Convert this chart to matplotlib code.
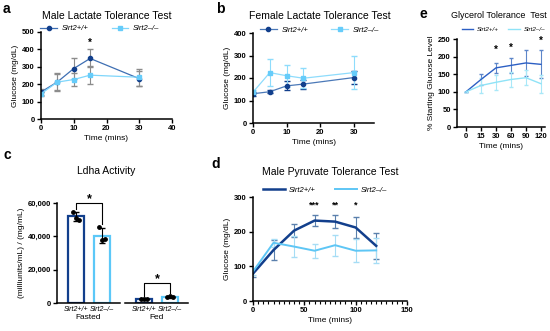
import numpy as np
import matplotlib
matplotlib.use('Agg')
import matplotlib.pyplot as plt
from matplotlib.ticker import MultipleLocator
from matplotlib.lines import Line2D

plt.rcParams['font.family'] = ['Liberation Sans', 'DejaVu Sans']

W, H = 550, 331

# a - male lactate
a_t = [0, 5, 10, 15, 30]
a_wt = [155, 213, 290, 348, 232]
a_wt_err = [15, 50, 58, 52, 45]
a_ko = [145, 212, 227, 252, 240]
a_ko_err = [12, 45, 35, 50, 50]

# b - female lactate
b_t = [0, 5, 10, 15, 30]
b_wt = [130, 139, 165, 173, 202]
b_wt_err = [8, 6, 20, 20, 30]
b_ko = [137, 224, 210, 199, 224]
b_ko_err = [10, 60, 48, 45, 75]

# e - glycerol
e_labels = ['0', '15', '30', '60', '90', '120']
e_wt = [100, 135, 168, 175, 182, 178]
e_wt_err = [0, 15, 15, 22, 38, 40]
e_ko = [100, 118, 127, 135, 140, 123]
e_ko_err = [0, 22, 22, 22, 22, 25]

# c - Ldha activity
c_groups = ['Fasted', 'Fed']
c_wt_mean = [52000, 2500]
c_ko_mean = [40500, 3800]
c_wt_pts = [[54500, 51000, 50000], [2400, 2500, 2600]]
c_ko_pts = [[45500, 38000, 38500], [3500, 4500, 3500]]
c_wt_err = [2500, 150]
c_ko_err = [4300, 600]

# d - male pyruvate
d_t = [0, 20, 40, 60, 80, 100, 120]
d_wt = [79, 147, 203, 232, 229, 212, 159]
d_wt_err = [10, 30, 18, 15, 18, 30, 38]
d_ko = [85, 168, 157, 145, 161, 145, 146]
d_ko_err = [10, 12, 30, 20, 30, 33, 35]

navy = '#123f8c'
light = '#5cc8f8'

fig = plt.figure(figsize=(W / 100, H / 100), dpi=100)


def px_axes(left, right, top, bottom):
    return fig.add_axes([left / W, 1 - bottom / H, (right - left) / W, (bottom - top) / H])


def ftext(x, y, s, **kw):
    fig.text(x / W, 1 - y / H, s, **kw)


def style(ax):
    for s in ['top', 'right']:
        ax.spines[s].set_visible(False)
    for s in ['left', 'bottom']:
        ax.spines[s].set_linewidth(1.1)
    ax.tick_params(labelsize=5.5, length=3, width=1.0, pad=1.5)
    for lab in ax.get_xticklabels() + ax.get_yticklabels():
        lab.set_fontweight('bold')


def legend(ax, handles, anchor, size=5.5, hl=2.2, cs=3):
    ax.legend(handles=handles, loc='lower center', bbox_to_anchor=anchor, ncol=2, frameon=False,
              prop={'size': size, 'style': 'italic'}, handlelength=hl, columnspacing=cs,
              borderaxespad=0, handletextpad=0.6)


# ---------- a ----------
ax = px_axes(41, 172, 32, 119)
ax.errorbar(a_t, a_wt, yerr=a_wt_err, color='#3e6fb3', lw=0.9, marker='o', ms=3,
            mfc=navy, mec=navy, ecolor='#8c8c8c', elinewidth=0.8, capsize=2)
ax.errorbar(a_t, a_ko, yerr=a_ko_err, color='#7fd6fb', lw=0.9, marker='s', ms=3,
            mfc='#66ccfa', mec='#66ccfa', ecolor='#8c8c8c', elinewidth=0.8, capsize=2)
ax.set_xlim(0, 40)
ax.set_ylim(0, 500)
ax.set_xticks([0, 10, 20, 30, 40])
ax.set_yticks([0, 100, 200, 300, 400, 500])
ax.set_xlabel('Time (mins)', fontsize=6, labelpad=2)
ax.set_ylabel('Glucose (mg/dL)', fontsize=6, labelpad=2)
ax.text(15, 420, '*', ha='center', fontsize=7, fontweight='bold')
style(ax)
legend(ax, [Line2D([], [], color='#3e6fb3', lw=0.9, marker='o', ms=3, mfc=navy, mec=navy, label='Sirt2+/+'),
            Line2D([], [], color='#7fd6fb', lw=0.9, marker='s', ms=3, mfc='#66ccfa', mec='#66ccfa', label='Sirt2–/–')],
       (0.45, 0.96))
ftext(107, 16, 'Male Lactate Tolerance Test', ha='center', va='center', fontsize=7.5)
ftext(3, 9, 'a', ha='left', va='center', fontsize=10, fontweight='bold')

# ---------- b ----------
ax = px_axes(253, 374, 33, 123)
ax.errorbar(b_t, b_wt, yerr=b_wt_err, color='#4b79b8', lw=0.9, marker='o', ms=3,
            mfc=navy, mec=navy, ecolor=navy, elinewidth=0.8, capsize=2)
ax.errorbar(b_t, b_ko, yerr=b_ko_err, color='#8edcfc', lw=0.9, marker='s', ms=3,
            mfc='#66ccfa', mec='#66ccfa', ecolor='#8edcfc', elinewidth=0.8, capsize=2)
ax.set_xlim(0, 36)
ax.set_ylim(0, 400)
ax.set_xticks([0, 10, 20, 30])
ax.set_yticks([0, 100, 200, 300, 400])
ax.set_xlabel('Time (mins)', fontsize=6, labelpad=2)
ax.set_ylabel('Glucose (mg/dL)', fontsize=6, labelpad=2)
style(ax)
legend(ax, [Line2D([], [], color='#4b79b8', lw=0.9, marker='o', ms=3, mfc=navy, mec=navy, label='Sirt2+/+'),
            Line2D([], [], color='#8edcfc', lw=0.9, marker='s', ms=3, mfc='#66ccfa', mec='#66ccfa', label='Sirt2–/–')],
       (0.55, 0.96))
ftext(320, 16, 'Female Lactate Tolerance Test', ha='center', va='center', fontsize=7.5)
ftext(216, 9, 'b', ha='left', va='center', fontsize=10, fontweight='bold')

# ---------- e ----------
ax = px_axes(457, 545, 39, 127)
ex = np.arange(len(e_labels))
ax.errorbar(ex, e_wt, yerr=e_wt_err, color='#2c5fc4', lw=1.0, ecolor='#5d86c9',
            elinewidth=0.8, capsize=1.5)
ax.errorbar(ex, e_ko, yerr=e_ko_err, color='#8fe3f7', lw=1.0, ecolor='#a9e8f8',
            elinewidth=0.8, capsize=1.5)
ax.set_xlim(-0.6, 5.27)
ax.set_ylim(0, 250)
ax.set_xticks(ex)
ax.set_xticklabels(e_labels)
ax.set_yticks([0, 50, 100, 150, 200, 250])
ax.set_xlabel('Time (mins)', fontsize=6, labelpad=2)
ax.set_ylabel('% Starting Glucose Level', fontsize=6, labelpad=2)
for i, yv in [(2, 210), (3, 215), (5, 237)]:
    ax.text(i, yv, '*', ha='center', fontsize=7, fontweight='bold')
style(ax)
legend(ax, [Line2D([], [], color='#2c5fc4', lw=1.0, label='Sirt2+/+'),
            Line2D([], [], color='#8fe3f7', lw=1.0, label='Sirt2–/–')],
       (0.53, 1.05), size=4.5, hl=1.8, cs=1.5)
ftext(547, 16, 'Glycerol Tolerance  Test', ha='right', va='center', fontsize=6.5)
ftext(419, 14, 'e', ha='left', va='center', fontsize=10, fontweight='bold')

# ---------- c ----------
ax1 = px_axes(57, 120, 203, 303)
ax2 = px_axes(125, 188, 203, 303)
bx = [0, 1]
jit = np.array([-0.13, 0.0, 0.13])
for k, axc in enumerate([ax1, ax2]):
    means = [c_wt_mean[k], c_ko_mean[k]]
    errs = [c_wt_err[k], c_ko_err[k]]
    pts = [c_wt_pts[k], c_ko_pts[k]]
    cols = [navy, light]
    for j in range(2):
        axc.bar(bx[j], means[j], width=0.65, facecolor='white', edgecolor=cols[j], linewidth=1.6)
        axc.errorbar(bx[j], means[j], yerr=errs[j], color='black', elinewidth=0.8, capsize=2)
        axc.scatter(bx[j] + jit, pts[j], s=6, color='black', zorder=5)
    axc.set_xlim(-0.73, 1.69)
    axc.set_ylim(0, 60000)
    axc.set_xticks(bx)
    axc.set_xticklabels(['Sirt2+/+', 'Sirt2–/–'], fontsize=5, style='italic')
    axc.set_xlabel(c_groups[k], fontsize=6, labelpad=1)
    for s in ['top', 'right']:
        axc.spines[s].set_visible(False)
    axc.spines['bottom'].set_linewidth(1.1)
    axc.spines['left'].set_linewidth(1.1)
    axc.tick_params(axis='x', length=0, pad=2)
    axc.tick_params(axis='y', labelsize=5.5, length=3, width=1.0, pad=1.5)
ax1.set_yticks([0, 20000, 40000, 60000])
ax1.set_yticklabels(['0', '20,000', '40,000', '60,000'], fontweight='bold')
ax1.set_ylabel('(milliunits/mL) / (mg/mL)', fontsize=6, labelpad=2)
ax2.spines['left'].set_visible(False)
ax2.set_yticks([])
# significance brackets
ax1.plot([0, 0, 1, 1], [56500, 60000, 60000, 47500], color='black', lw=0.8, clip_on=False)
ax1.text(0.5, 60500, '*', ha='center', fontsize=9, fontweight='bold', clip_on=False)
ax2.plot([0, 0, 1, 1], [4500, 12000, 12000, 6000], color='black', lw=0.8, clip_on=False)
ax2.text(0.5, 12500, '*', ha='center', fontsize=9, fontweight='bold')
ftext(106, 171, 'Ldha Activity', ha='center', va='center', fontsize=7.5)
ftext(3, 155, 'c', ha='left', va='center', fontsize=10, fontweight='bold')

# ---------- d ----------
ax = px_axes(253, 407, 197, 301)
ax.errorbar(d_t, d_wt, yerr=d_wt_err, color=navy, lw=1.8, ecolor='#5b80ad',
            elinewidth=0.8, capsize=2)
ax.errorbar(d_t, d_ko, yerr=d_ko_err, color='#5ec6f5', lw=1.4, ecolor='#a6ddf5',
            elinewidth=0.8, capsize=2)
ax.set_xlim(0, 150)
ax.set_ylim(0, 300)
ax.set_xticks([0, 50, 100, 150])
ax.xaxis.set_minor_locator(MultipleLocator(5))
ax.set_yticks([0, 100, 200, 300])
ax.set_xlabel('Time (mins)', fontsize=6, labelpad=2)
ax.set_ylabel('Glucose (mg/dL)', fontsize=6, labelpad=2)
for xv, s in [(60, '***'), (80, '**'), (100, '*')]:
    ax.text(xv, 270, s, ha='center', fontsize=6.5, fontweight='bold')
style(ax)
ax.tick_params(axis='x', which='minor', length=2, width=0.8)
legend(ax, [Line2D([], [], color=navy, lw=1.8, label='Sirt2+/+'),
            Line2D([], [], color='#5ec6f5', lw=1.4, label='Sirt2–/–')],
       (0.47, 1.0), hl=2.8, cs=2.5)
ftext(330, 172, 'Male Pyruvate Tolerance Test', ha='center', va='center', fontsize=7.5)
ftext(211, 164, 'd', ha='left', va='center', fontsize=10, fontweight='bold')

fig.savefig('out.png', dpi=100)
